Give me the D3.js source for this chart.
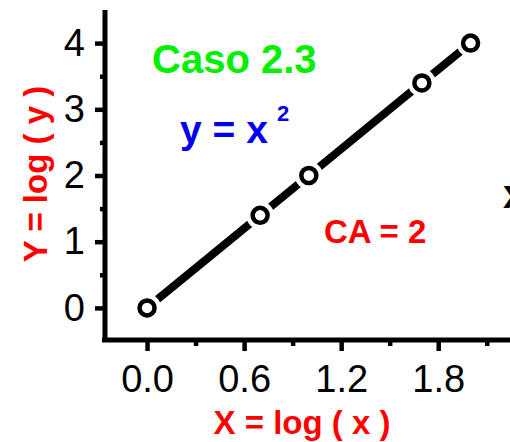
<!DOCTYPE html>
<html>
<head>
<meta charset="utf-8">
<script src="https://cdn.jsdelivr.net/npm/d3@7"></script>
<style>
  body { margin: 0; background: #fff; }
  svg { display: block; }
  text { font-family: "Liberation Sans", Arial, sans-serif; }
</style>
</head>
<body>
<svg id="chart" width="510" height="442"></svg>
<script>
// data: X = log(x), Y = log(y) for y = x^2
var xVals = [0, 0.699, 1, 1.699, 2];
var yVals = [0, 1.398, 2, 3.398, 4];
var xMajor = [0, 0.6, 1.2, 1.8];
var xMinor = [0.3, 0.9, 1.5, 2.1];
var xTickLabels = ["0.0", "0.6", "1.2", "1.8"];
var yMajor = [0, 1, 2, 3, 4];
var yMinor = [0.5, 1.5, 2.5, 3.5];
var yTickLabels = ["0", "1", "2", "3", "4"];

var svg = d3.select("#chart");

var x = d3.scaleLinear().domain([-0.26, 2.25]).range([105, 511]);
var y = d3.scaleLinear().domain([-0.5, 4.5]).range([341, 10]);

// axes
var xAxis = d3.axisBottom(x).tickValues(xMajor).tickSize(11).tickPadding(14)
    .tickFormat((d, i) => xTickLabels[i]);
var gx = svg.append("g").attr("transform", "translate(0,340)").call(xAxis);
gx.select(".domain").remove();
gx.selectAll(".tick line").attr("stroke", "#000").attr("stroke-width", 4.5);
gx.selectAll(".tick text").attr("font-size", 38).attr("fill", "#000")
    .attr("font-family", "Liberation Sans, Arial, sans-serif");

var gxm = svg.append("g").attr("transform", "translate(0,340)")
    .call(d3.axisBottom(x).tickValues(xMinor).tickSize(6).tickFormat(""));
gxm.select(".domain").remove();
gxm.selectAll(".tick line").attr("stroke", "#000").attr("stroke-width", 4.5);

var yAxis = d3.axisLeft(y).tickValues(yMajor).tickSize(10).tickPadding(10)
    .tickFormat((d, i) => yTickLabels[i]);
var gy = svg.append("g").attr("transform", "translate(105,0)").call(yAxis);
gy.select(".domain").remove();
gy.selectAll(".tick line").attr("stroke", "#000").attr("stroke-width", 4.5);
gy.selectAll(".tick text").attr("font-size", 38).attr("fill", "#000")
    .attr("font-family", "Liberation Sans, Arial, sans-serif");

var gym = svg.append("g").attr("transform", "translate(105,0)")
    .call(d3.axisLeft(y).tickValues(yMinor).tickSize(5).tickFormat(""));
gym.select(".domain").remove();
gym.selectAll(".tick line").attr("stroke", "#000").attr("stroke-width", 4.5);

// axis lines
svg.append("line").attr("x1", 105).attr("x2", 105).attr("y1", 10).attr("y2", 342)
    .attr("stroke", "#000").attr("stroke-width", 5);
svg.append("line").attr("x1", 102).attr("x2", 510).attr("y1", 340).attr("y2", 340)
    .attr("stroke", "#000").attr("stroke-width", 5);

// series
var pts = xVals.map((d, i) => [d, yVals[i]]);
var line = d3.line().x(d => x(d[0])).y(d => y(d[1]));
svg.append("path").datum(pts).attr("d", line)
    .attr("fill", "none").attr("stroke", "#000").attr("stroke-width", 8);

svg.selectAll(".gap").data(pts).enter().append("circle")
    .attr("cx", d => x(d[0])).attr("cy", d => y(d[1])).attr("r", 14).attr("fill", "#fff");
svg.selectAll(".pt").data(pts).enter().append("circle")
    .attr("cx", d => x(d[0])).attr("cy", d => y(d[1])).attr("r", 7.5)
    .attr("fill", "#fff").attr("stroke", "#000").attr("stroke-width", 4.5);

// annotations
svg.append("text").attr("x", 152).attr("y", 73).attr("font-size", 40).attr("font-weight", "bold")
    .attr("fill", "#00f000").text("Caso 2.3");

svg.append("text").attr("x", 180).attr("y", 143).attr("font-size", 39)
    .attr("font-weight", "bold").attr("fill", "#0000ee").text("y = x");
svg.append("text").attr("x", 277).attr("y", 121).style("font-size", "22px")
    .attr("font-weight", "bold").attr("fill", "#0000ee").text("2");

svg.append("text").attr("x", 324).attr("y", 243).attr("font-size", 33).attr("font-weight", "bold")
    .attr("fill", "#ff0000").text("CA = 2");

// axis titles
svg.append("text").attr("x", 302).attr("y", 434).attr("text-anchor", "middle")
    .attr("font-size", 33).attr("font-weight", "bold").attr("fill", "#ff0000")
    .text("X = log ( x )");
svg.append("text").attr("transform", "translate(47,174) rotate(-90)").attr("text-anchor", "middle")
    .attr("font-size", 33).attr("font-weight", "bold").attr("fill", "#ff0000")
    .text("Y = log ( y )");

// cut-off letter from the neighbouring panel
svg.append("text").attr("x", 503).attr("y", 208).attr("font-size", 40).attr("font-weight", "bold")
    .attr("fill", "#000").text("x");
</script>
</body>
</html>
